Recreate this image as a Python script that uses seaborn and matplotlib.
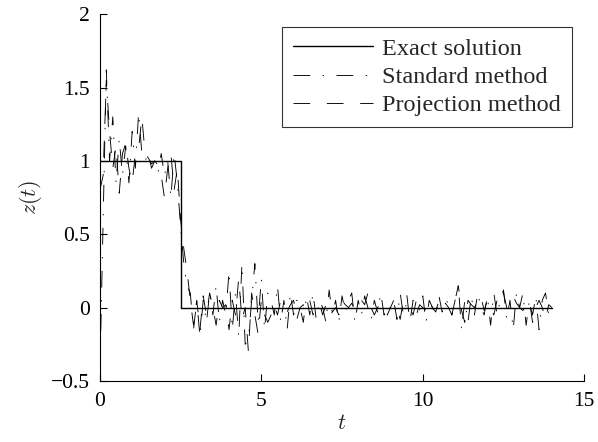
import matplotlib
matplotlib.use("Agg")
import matplotlib.pyplot as plt
import numpy as np
import pandas as pd
import seaborn as sns

# time grid (step 0.1 from 0 to 14)
t = np.round(np.arange(0, 141) * 0.1, 1)

# exact solution: unit step switched off at t = 2.5
exact_t = [0.0, 2.5, 2.5, 14.0]
exact_z = [1.0, 1.0, 0.0, 0.0]

# standard method (dash-dot)
standard_z = [
    -0.45, 0.60, 1.62, 1.00, 1.30, 0.85, 1.15, 0.90, 1.10, 0.85,
    1.20, 0.95, 1.33, 1.05, 1.00, 1.05, 0.95, 1.00, 0.92, 1.05,
    0.90, 1.00, 0.75, 1.05, 0.85, 0.55, 0.30, 0.15, 0.10, -0.15,
    0.05, -0.20, 0.05, -0.10, 0.10, -0.05, 0.15, -0.10, 0.05, -0.05,
    0.25, -0.15, 0.10, -0.20, 0.30, -0.25, -0.22, 0.05, 0.30, -0.10,
    0.20, -0.15, 0.10, 0.05, -0.05, 0.15, -0.10, 0.05, -0.15, 0.10,
    -0.05, 0.05, 0.00, -0.10, 0.08, -0.05, 0.10, -0.08, 0.05, 0.00,
    -0.10, 0.12, -0.05, 0.05, -0.10, 0.08, -0.03, 0.05, 0.10, -0.10,
    0.05, -0.05, 0.08, 0.00, -0.08, 0.05, -0.03, 0.10, -0.05, 0.02,
    0.00, 0.05, -0.08, 0.10, -0.05, 0.03, 0.00, -0.05, 0.05, -0.02,
    0.08, -0.10, 0.05, 0.00, -0.05, 0.08, -0.03, 0.05, 0.03, -0.05,
    0.05, 0.15, -0.15, 0.05, -0.10, 0.08, -0.05, 0.10, 0.00, -0.05,
    0.08, -0.12, 0.10, -0.05, 0.05, 0.12, -0.08, 0.05, -0.15, 0.10,
    0.00, 0.10, -0.12, 0.05, -0.05, 0.08, -0.15, 0.05, 0.10, -0.05,
    0.00,
]

# projection method (dashed)
projection_z = [
    0.80, 0.90, 1.55, 1.20, 0.95, 1.10, 0.78, 1.05, 1.12, 0.95,
    0.85, 1.05, 1.08, 1.30, 1.05, 1.02, 0.98, 1.00, 0.97, 0.90,
    0.75, 0.95, 1.05, 0.80, 0.95, 0.60, 0.40, 0.25, 0.05, -0.12,
    0.05, -0.15, 0.08, -0.05, 0.10, 0.00, -0.12, 0.05, 0.00, 0.02,
    -0.15, 0.05, -0.05, 0.20, -0.08, 0.00, -0.30, 0.10, -0.05, -0.18,
    0.05, -0.05, -0.10, -0.05, 0.02, -0.05, 0.05, 0.00, -0.03, 0.02,
    0.05, -0.08, 0.00, 0.02, -0.02, 0.05, -0.05, 0.00, 0.03, -0.05,
    0.02, 0.05, -0.03, 0.00, -0.05, 0.05, 0.02, 0.00, 0.03, -0.02,
    0.00, 0.05, 0.02, 0.10, 0.00, -0.05, 0.00, 0.03, 0.00, -0.05,
    0.00, 0.05, 0.00, -0.08, 0.05, 0.10, -0.10, 0.05, -0.05, 0.02,
    0.00, -0.02, 0.05, 0.00, -0.03, 0.05, 0.00, 0.03, 0.00, -0.05,
    0.05, 0.15, -0.02, -0.10, 0.05, 0.02, 0.00, 0.05, 0.08, -0.02,
    0.05, 0.00, -0.05, 0.05, 0.02, 0.10, 0.00, 0.05, 0.08, 0.03,
    0.00, -0.02, 0.02, 0.05, -0.10, 0.00, 0.05, 0.00, -0.08, 0.02,
    0.00,
]

sns.set_style("ticks")
plt.rcParams["font.family"] = ["Liberation Serif", "DejaVu Serif"]
plt.rcParams["mathtext.fontset"] = "cm"
plt.rcParams["lines.scale_dashes"] = False

fig = plt.figure(figsize=(5.98, 4.42), dpi=100)
ax = fig.add_axes([0.167, 0.138, 0.81, 0.830])

df_exact = pd.DataFrame({"t": exact_t, "z": exact_z})
df_std = pd.DataFrame({"t": t, "z": standard_z})
df_proj = pd.DataFrame({"t": t, "z": projection_z})

sns.lineplot(data=df_exact, x="t", y="z", ax=ax, color="k", lw=1.0,
             estimator=None, sort=False, label="Exact solution")
sns.lineplot(data=df_std, x="t", y="z", ax=ax, color="k", lw=0.65,
             estimator=None, label="Standard method", linestyle=(0, (12, 9, 1, 9)))
sns.lineplot(data=df_proj, x="t", y="z", ax=ax, color="k", lw=0.65,
             estimator=None, label="Projection method", linestyle=(0, (12, 12)))

ax.set_xlim(0, 15)
ax.set_ylim(-0.5, 2)
ax.set_xticks([0, 5, 10, 15])
ax.set_yticks([-0.5, 0, 0.5, 1, 1.5, 2])
ax.set_yticklabels(["\u22120.5", "0", "0.5", "1", "1.5", "2"])
ax.tick_params(direction="in", length=5, width=0.8, labelsize=15.5, colors="k")
ax.tick_params(axis="y", pad=7)
ax.tick_params(axis="x", pad=8)
for side in ["top", "right"]:
    ax.spines[side].set_visible(False)
for side in ["left", "bottom"]:
    ax.spines[side].set_linewidth(0.8)
    ax.spines[side].set_color("k")

ax.set_xlabel("$t$", fontsize=16, labelpad=3)
ax.set_ylabel("$z(t)$", fontsize=16, labelpad=5)

leg = ax.legend(loc="upper right", bbox_to_anchor=(0.975, 0.965), fontsize=17.5,
                frameon=True, fancybox=False, edgecolor="k", handlelength=3.3,
                handletextpad=0.4, borderpad=0.45, labelspacing=0.25, borderaxespad=0)
leg.get_frame().set_linewidth(0.8)

fig.savefig("out.png", dpi=100)
